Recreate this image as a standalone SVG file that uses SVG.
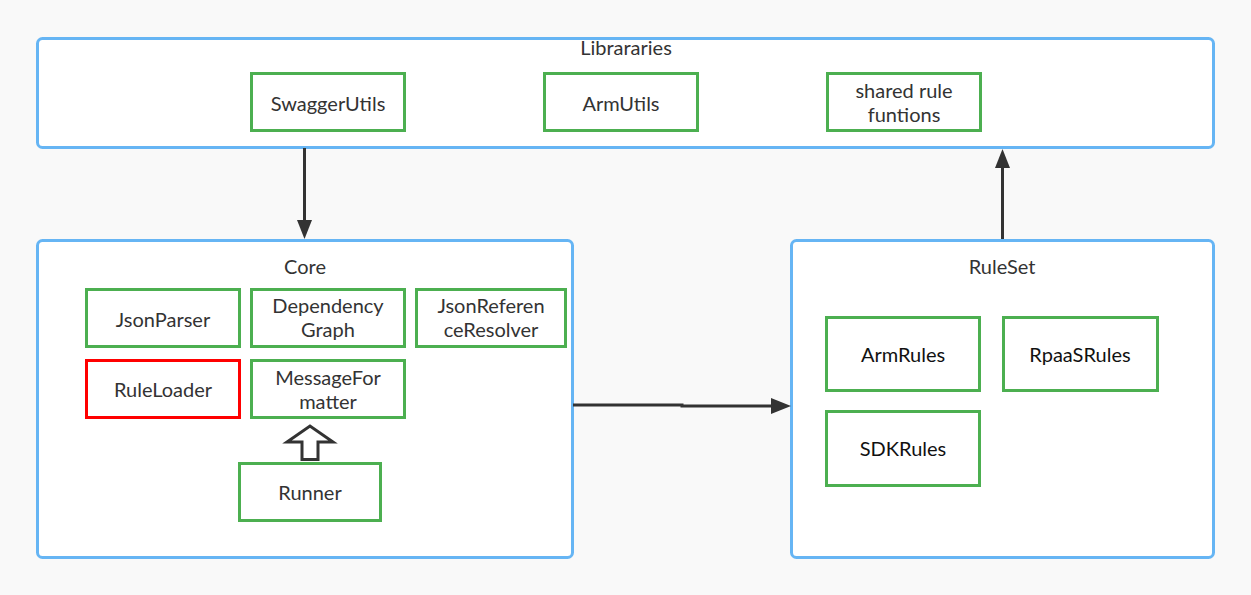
<svg xmlns="http://www.w3.org/2000/svg" width="1251" height="595" viewBox="0 0 1251 595">
<style>
.grp{fill:#ffffff;stroke:#66b5f4;stroke-width:3}
.node{fill:#ffffff;stroke:#4caf50;stroke-width:3}
.red{fill:#ffffff;stroke:#ff0000;stroke-width:3}
text{font-family:Lato,"Open Sans","Noto Sans",sans-serif;font-size:20px;fill:#333333;text-anchor:middle}
.dark{fill:#111111}
.conn{stroke:#333333;stroke-width:3;fill:none}
</style>
<rect width="1251" height="595" fill="#f9f9f9"/>
<g id="libraries">
<rect class="grp" x="37.5" y="38.5" width="1176" height="109" rx="5"/>
<text x="626" y="55">Librararies</text>
</g>
<g id="core">
<rect class="grp" x="37.5" y="240.5" width="535" height="317" rx="5"/>
<text x="305" y="274">Core</text>
</g>
<g id="ruleset">
<rect class="grp" x="791.5" y="240.5" width="422" height="317" rx="5"/>
<text x="1002" y="274">RuleSet</text>
</g>
<g id="swaggerutils"><rect class="node" x="251.5" y="73.5" width="153" height="57"/><text x="328" y="111">SwaggerUtils</text></g>
<g id="armutils"><rect class="node" x="544.5" y="73.5" width="153" height="57"/><text x="621" y="111">ArmUtils</text></g>
<g id="sharedrule"><rect class="node" x="827.5" y="73.5" width="153" height="57"/><text x="904" y="98">shared rule</text><text x="904" y="122">funtions</text></g>
<g id="jsonparser"><rect class="node" x="86.5" y="289.5" width="153" height="57"/><text x="163" y="327">JsonParser</text></g>
<g id="dependencygraph"><rect class="node" x="251.5" y="289.5" width="153" height="57"/><text x="328" y="313">Dependency</text><text x="328" y="337">Graph</text></g>
<g id="jsonreferenceresolver"><rect class="node" x="416.5" y="289.5" width="149" height="57"/><text x="491" y="313">JsonReferen</text><text x="491" y="337">ceResolver</text></g>
<g id="ruleloader"><rect class="red" x="86.5" y="360.5" width="153" height="57"/><text x="163" y="397">RuleLoader</text></g>
<g id="messageformatter"><rect class="node" x="251.5" y="360.5" width="153" height="57"/><text x="328" y="385">MessageFor</text><text x="328" y="409">matter</text></g>
<g id="runner"><rect class="node" x="239.5" y="463.5" width="141" height="57"/><text x="310" y="500">Runner</text></g>
<g id="armrules"><rect class="node" x="826.5" y="317.5" width="153" height="73"/><text class="dark" x="903" y="362">ArmRules</text></g>
<g id="rpaasrules"><rect class="node" x="1003.5" y="317.5" width="154" height="73"/><text class="dark" x="1080" y="362">RpaaSRules</text></g>
<g id="sdkrules"><rect class="node" x="826.5" y="411.5" width="153" height="74"/><text class="dark" x="903" y="456">SDKRules</text></g>
<g id="connectors">
<path class="conn" d="M304.5 148 L304.5 222"/>
<path d="M297 220 L312 220 L304.5 239 Z" fill="#333333"/>
<path class="conn" d="M1002.5 239 L1002.5 166"/>
<path d="M995 168 L1010 168 L1002.5 149 Z" fill="#333333"/>
<path class="conn" d="M573 405 L682 405 L682 406 L774 406"/>
<path d="M771 398 L771 414 L791 406 Z" fill="#333333"/>
<path d="M302 459.5 L302 442 L287 442 L310 426 L333 442 L318 442 L318 459.5 Z" fill="#ffffff" stroke="#333333" stroke-width="3" stroke-linejoin="miter"/>
</g>
</svg>
